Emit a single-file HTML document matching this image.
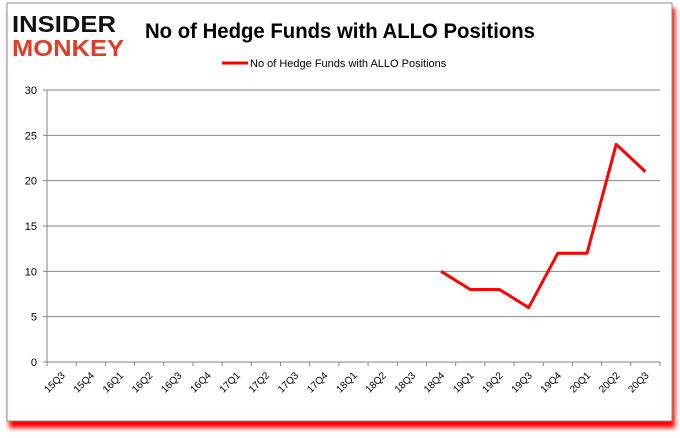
<!DOCTYPE html>
<html><head><meta charset="utf-8"><style>
body{margin:0;width:680px;height:433px;background:#fff;overflow:hidden;font-family:"Liberation Sans",sans-serif}
</style></head><body>
<svg width="680" height="433">
<defs><filter id="sh" x="-5%" y="-5%" width="110%" height="115%"><feGaussianBlur stdDeviation="2.5"/></filter></defs>
<rect x="9" y="8" width="666" height="420" fill="#ff0000" filter="url(#sh)"/>
<rect x="7" y="3" width="665" height="418" fill="#fff" stroke="#8c8c8c"/>
<g font-family="Liberation Sans" font-weight="bold">
<text x="12" y="32" font-size="23" fill="#111" textLength="104" lengthAdjust="spacingAndGlyphs">INSIDER</text>
<text x="12" y="56" font-size="23" fill="#d9402a" textLength="112" lengthAdjust="spacingAndGlyphs">MONKEY</text>
</g>
<text x="145" y="38" font-size="21" font-weight="bold" fill="#000" textLength="390" lengthAdjust="spacingAndGlyphs">No of Hedge Funds with ALLO Positions</text>
<g>
<line x1="222" y1="63" x2="248" y2="63" stroke="#f00" stroke-width="3"/>
<text x="250" y="67" font-size="11" fill="#000">No of Hedge Funds with ALLO Positions</text>
</g>
<g id="grid"></g><g id="axes"></g><g id="series"></g>
</svg>
<script>
const categories=["15Q3","15Q4","16Q1","16Q2","16Q3","16Q4","17Q1","17Q2","17Q3","17Q4","18Q1","18Q2","18Q3","18Q4","19Q1","19Q2","19Q3","19Q4","20Q1","20Q2","20Q3"];
const values=[null,null,null,null,null,null,null,null,null,null,null,null,null,10,8,8,6,12,12,24,21];
const yTicks=[0,5,10,15,20,25,30];
const NS="http://www.w3.org/2000/svg";
const L=47,R=660,T=90,B=362,yMax=30;
const step=(R-L)/categories.length;
const xs=i=>L+step*(i+0.5);
const ys=v=>B-(v/yMax)*(B-T);
function mk(t,a,p){const e=document.createElementNS(NS,t);for(const k in a)e.setAttribute(k,a[k]);p.appendChild(e);return e;}
const grid=document.getElementById('grid'),axes=document.getElementById('axes'),ser=document.getElementById('series');
yTicks.forEach(v=>{
 const y=ys(v);
 const g=mk('line',{x1:L,x2:R,y1:y,y2:y,stroke:v===0?'#868686':'#868686','stroke-width':1},grid);
 
 
 mk('line',{x1:L-4,x2:L,y1:y,y2:y,stroke:'#868686'},axes);
 const t=mk('text',{x:L-10,y:y+4,'font-size':11,'text-anchor':'end',fill:'#000'},axes);
 t.textContent=v;
 
 
});
mk('line',{x1:L,x2:L,y1:T,y2:B,stroke:'#868686'},axes);
for(let i=0;i<=categories.length;i++){const x=L+step*i;mk('line',{x1:x,x2:x,y1:B,y2:B+4,stroke:'#868686'},axes);}
categories.forEach((c,i)=>{
 const x=xs(i)+4,y=B+14;
 const t=mk('text',{x:x,y:y,'font-size':10,'text-anchor':'end',fill:'#000',transform:`rotate(-45 ${x} ${y})`},axes);
 t.textContent=c;
 
 
});
let d='';values.forEach((v,i)=>{if(v==null)return;d+=(d?'L':'M')+xs(i)+','+ys(v);});
const p=mk('path',{d:d,fill:'none',stroke:'#ff0000','stroke-width':3,'stroke-linejoin':'round'},ser);


</script>
</body></html>
